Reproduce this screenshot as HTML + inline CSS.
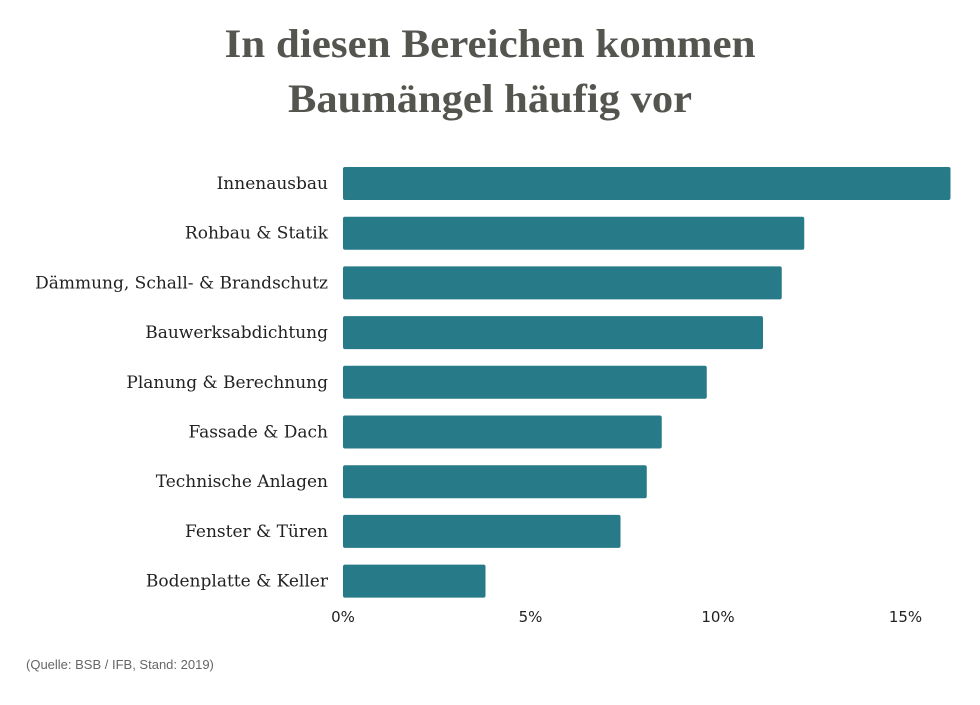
<!DOCTYPE html>
<html><head><meta charset="utf-8"><style>
body{margin:0;background:#fff;width:980px;height:700px;overflow:hidden}
</style></head><body>
<svg width="980" height="700">
<text x="490" y="57" text-anchor="middle" textLength="531" lengthAdjust="spacingAndGlyphs" font-family="Liberation Serif, serif" font-weight="bold" font-size="40" fill="#555550">In diesen Bereichen kommen</text>
<text x="490" y="112" text-anchor="middle" textLength="404" lengthAdjust="spacingAndGlyphs" font-family="Liberation Serif, serif" font-weight="bold" font-size="40" fill="#555550">Baumängel häufig vor</text>
<g id="bars"></g>
<g id="ticks"></g>
<text x="26" y="669" font-family="Liberation Sans, sans-serif" font-size="13" fill="#666">(Quelle: BSB / IFB, Stand: 2019)</text>
</svg>
<script>
const categories=["Innenausbau","Rohbau & Statik","Dämmung, Schall- & Brandschutz","Bauwerksabdichtung","Planung & Berechnung","Fassade & Dach","Technische Anlagen","Fenster & Türen","Bodenplatte & Keller"];
const values=[16.2,12.3,11.7,11.2,9.7,8.5,8.1,7.4,3.8];
const tickValues=[0,5,10,15];
const tickLabels=["0%","5%","10%","15%"];
const ns="http://www.w3.org/2000/svg";
const x=v=>343+v*37.5;
const y=i=>167+i*49.7;
const bars=document.getElementById('bars'),ticks=document.getElementById('ticks');
categories.forEach((c,i)=>{
 const r=document.createElementNS(ns,'rect');
 
 
 r.setAttribute('x',x(0));r.setAttribute('y',y(i));r.setAttribute('width',x(values[i])-x(0));r.setAttribute('height',33);r.setAttribute('rx',2);r.setAttribute('fill','#277a88');
 bars.appendChild(r);
 const t=document.createElementNS(ns,'text');
 
 
 t.setAttribute('x',328);t.setAttribute('y',y(i)+22);t.setAttribute('text-anchor','end');t.setAttribute('font-family','DejaVu Serif, serif');t.setAttribute('font-size','17');t.setAttribute('fill','#222');
 t.textContent=c;bars.appendChild(t);
});
tickValues.forEach((v,i)=>{
 const t=document.createElementNS(ns,'text');
 
 
 t.setAttribute('x',x(v));t.setAttribute('y',622);t.setAttribute('text-anchor','middle');t.setAttribute('font-family','DejaVu Sans, sans-serif');t.setAttribute('font-size','15');t.setAttribute('fill','#222');
 t.textContent=tickLabels[i];ticks.appendChild(t);
});
</script>
</body></html>
